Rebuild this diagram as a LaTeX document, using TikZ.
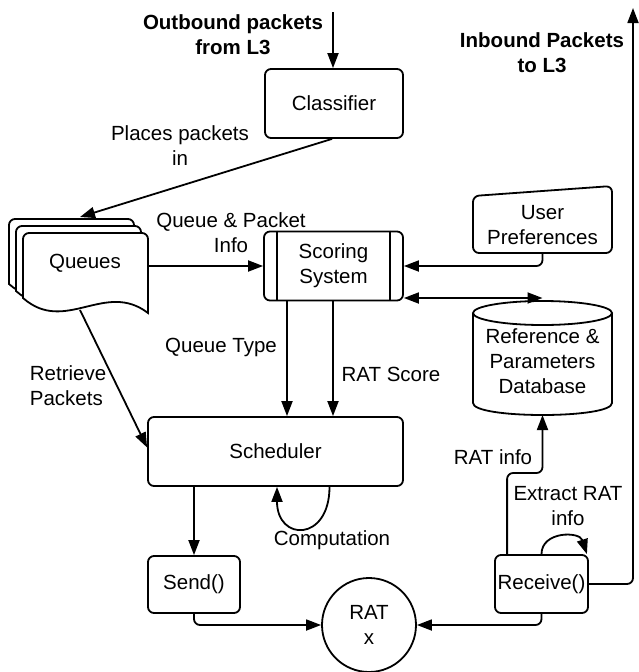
\documentclass[tikz,border=0pt]{standalone}
\usepackage{fontspec}
\setmainfont{Liberation Sans}
\usetikzlibrary{arrows.meta,calc}
\newcommand\lblfont{\fontsize{20.5}{25}\selectfont}
\begin{document}
\begin{tikzpicture}[x=1pt,y=-1pt,line width=1.8pt,
  >={Triangle[length=15pt,width=11pt]},
  every node/.style={font=\lblfont,align=center,inner sep=0pt},
  box/.style={draw,rounded corners=6pt,fill=white},
  lbl/.style={font=\lblfont},
  bold/.style={font=\lblfont\bfseries},
  conn/.style={->,rounded corners=6pt}]
\useasboundingbox (0,0) rectangle (638,672);

% Queues (stacked documents)
\foreach \d in {14,7,0}{
  \begin{scope}[shift={(-\d,-\d)}]
    \draw[fill=white] (23,298) [rounded corners=6pt] -- (23,233) -- (148,233) [sharp corners] -- (148,313)
      .. controls (105,280) and (65,335) .. (23,298) -- cycle;
  \end{scope}}
\node (qtext) at (85,263) {Queues};
\coordinate (qtop) at (80,217);
\coordinate (qright) at (148,266);
\coordinate (qbot) at (80,310);

% Boxes
\node[box,minimum width=138pt,minimum height=69pt] (class) at (334,103.5) {Classifier};
\node[box,minimum width=139pt,minimum height=69pt] (score) at (333.5,266) {Scoring\\System};
\draw ([xshift=14pt]score.north west) -- ([xshift=14pt]score.south west);
\draw ([xshift=-14pt]score.north east) -- ([xshift=-14pt]score.south east);
\node[box,minimum width=255pt,minimum height=69pt] (sched) at (275.5,451.5) {Scheduler};
\node[box,minimum width=92pt,minimum height=57pt] (send) at (194,584.5) {Send()};
\node[box,minimum width=93pt,minimum height=58pt] (recv) at (541.5,584) {Receive()};
\node[draw,circle,fill=white,minimum size=94pt] (rat) at (369,625) {RAT\\x};

% User preferences (manual input)
\draw[fill=white,rounded corners=6pt] (473,196) -- (612,186) -- (612,253) -- (473,253) -- cycle;
\node (uptext) at (542.5,225) {User\\Preferences};
\coordinate (upbot) at (542.5,253);

% Database cylinder
\draw[fill=white] (473,313) -- (473,403) .. controls (473,419) and (612,419) .. (612,403) -- (612,313);
\draw[fill=white] (542.5,313) ellipse [x radius=69.5, y radius=12];
\node (dbtext) at (542.5,361) {Reference \&\\Parameters\\Database};
\coordinate (dbtop) at (542.5,298);
\coordinate (dbbot) at (542.5,415);

% Free ends
\coordinate (outtop) at (333,12);
\coordinate (intop) at (633,8);

% Labels
\node[bold] (outlbl) at (233,34.5) {Outbound packets\\from L3};
\node[bold] (inlbl) at (542,52.5) {Inbound Packets\\to L3};
\node (placeslbl) at (180,145.5) {Places packets\\in};
\node (qplbl) at (231,233) {Queue \& Packet\\Info};
\node (qtlbl) at (221,347) {Queue Type};
\node (rslbl) at (391,374) {RAT Score};
\node[anchor=west,align=left] (retlbl) at (29,385.5) {Retrieve\\Packets};
\node (complbl) at (332,540) {Computation};
\node (ratinfolbl) at (493,457) {RAT info};
\node (extlbl) at (568,506) {Extract RAT\\info};

% Connectors
\draw[->] (outtop) -- (outtop |- class.north);
\draw[->] ([xshift=-2pt]class.south) -- (qtop);
\draw[->] (qright) -- (score.west);
\draw[conn] (upbot) |- (score.east);
\draw[<->] ($(score.east)+(0,32)$) -- (dbtop);
\coordinate (s1) at ([xshift=-46.5pt]score.south);
\coordinate (s2) at ([xshift=-0.5pt]score.south);
\draw[->] (s1) -- (s1 |- sched.north);
\draw[->] (s2) -- (s2 |- sched.north);
\draw[->] (qbot) -- ($(sched.west)+(0,-4)$);
\draw[->] (send.north |- sched.south) -- (send.north);
\draw[->] ($(sched.south)+(54,0)$) .. controls ($(sched.south)+(54,55)$) and ($(sched.south)+(1.5,55)$) .. ($(sched.south)+(1.5,0)$);
\draw[conn] (send.south) |- (rat.west);
\draw[conn] (recv.south) |- (rat.east);
\draw[conn] (recv.east) -| (intop);
\draw[conn] ($(recv.north west)+(13,0)$) |- ($(dbbot)+(0,58)$) -- (dbbot);
\draw[->] (recv.north) .. controls ($(recv.north)+(0,-23)$) and ($(recv.north)+(38,-23)$) .. ($(recv.north east)+(-2,0)$);
\end{tikzpicture}
\end{document}
